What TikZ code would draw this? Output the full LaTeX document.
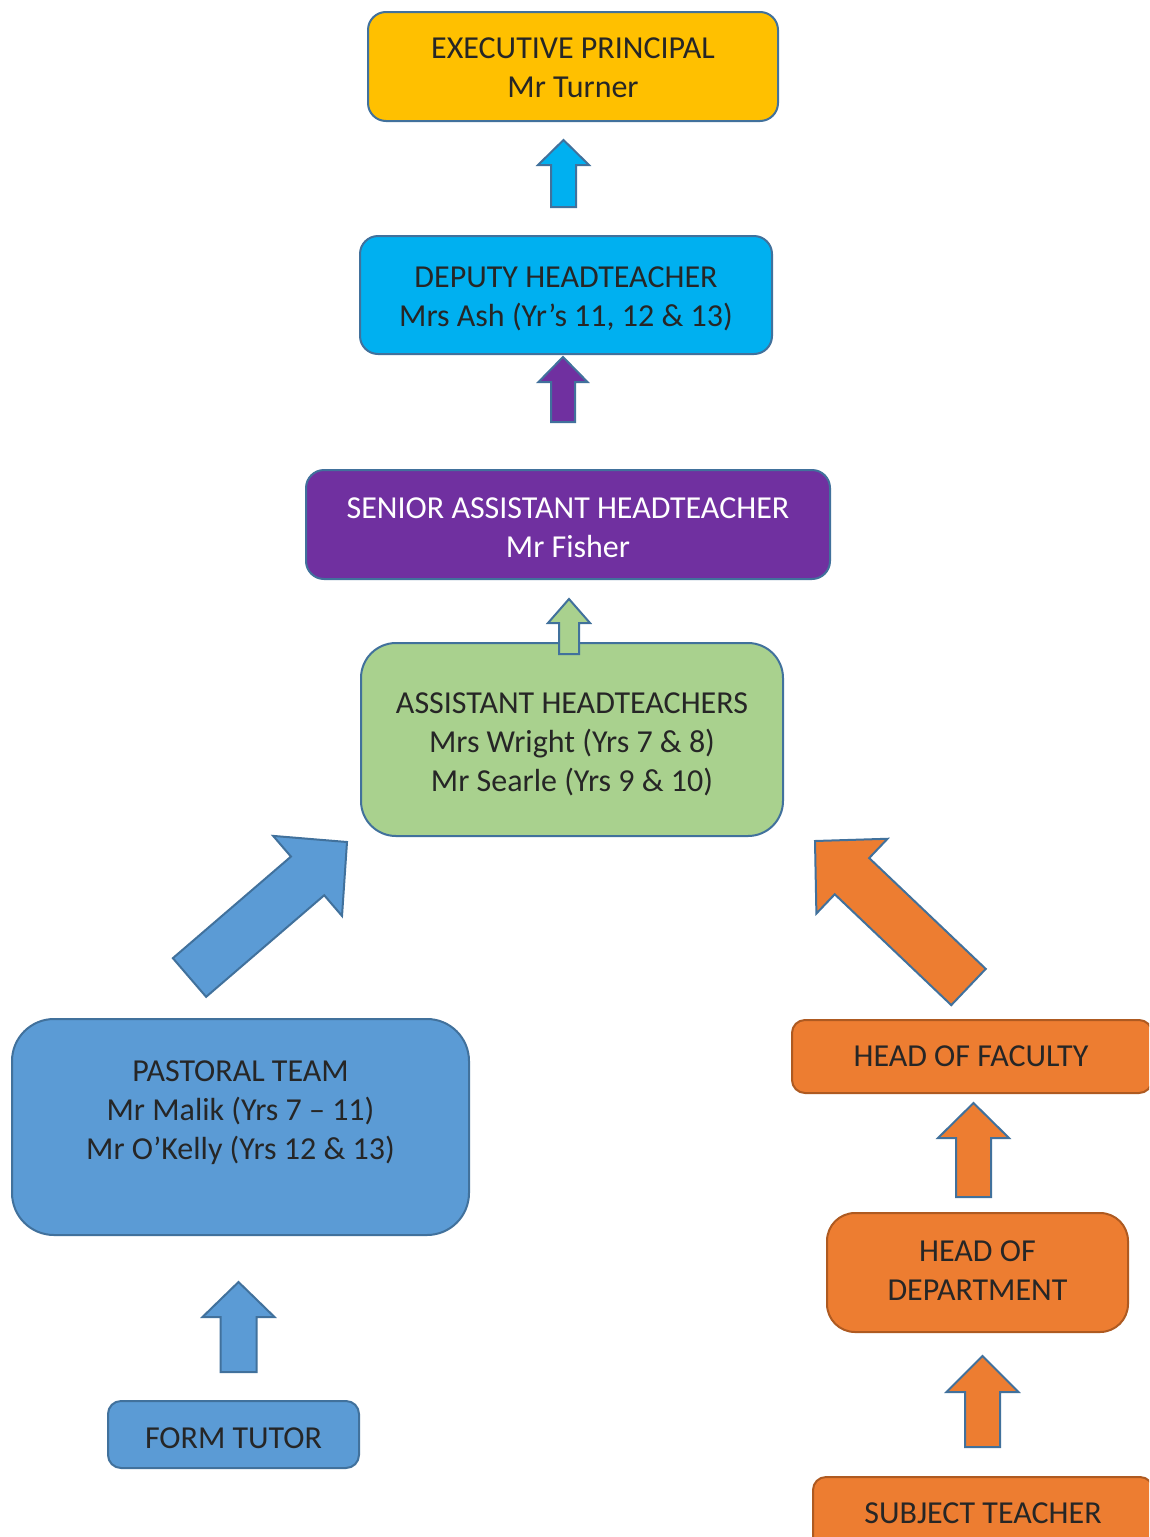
\documentclass[tikz,border=0pt]{standalone}
\usepackage{fontspec}
\setmainfont{Carlito}
\usetikzlibrary{calc}
\definecolor{execfill}{HTML}{FFC000}
\definecolor{depfill}{HTML}{00B0F0}
\definecolor{senfill}{HTML}{7030A0}
\definecolor{grnfill}{HTML}{A9D18E}
\definecolor{bluefill}{HTML}{5B9BD5}
\definecolor{orgfill}{HTML}{ED7D31}
\definecolor{outl}{HTML}{41719C}
\definecolor{orgline}{HTML}{AE5A21}
\definecolor{txtc}{HTML}{262626}
\tikzset{
  box/.style={draw=outl, line width=2pt, rounded corners=#1, inner sep=0pt},
  box/.default=18pt,
  txtlabel/.style={text=txtc, align=center, font=\fontsize{32pt}{39pt}\selectfont, inner sep=0pt},
  blockarrow/.style n args={3}{draw=outl, line width=2pt, line join=miter, to path={
    ($(\tikztostart)!#1!90:(\tikztotarget)$)
    -- ($(\tikztotarget)!#3!(\tikztostart)!#1!-90:(\tikztostart)$)
    -- ($(\tikztotarget)!#3!(\tikztostart)!#2!-90:(\tikztostart)$)
    -- (\tikztotarget)
    -- ($(\tikztotarget)!#3!(\tikztostart)!#2!90:(\tikztostart)$)
    -- ($(\tikztotarget)!#3!(\tikztostart)!#1!90:(\tikztostart)$)
    -- ($(\tikztostart)!#1!-90:(\tikztotarget)$)
    -- cycle}}
}
\begin{document}
\begin{tikzpicture}[x=1pt, y=-1pt]
\clip (0,0) rectangle (1149,1537);
\fill[white] (0,0) rectangle (1149,1537);

% boxes
\node[box, fill=execfill, minimum width=410pt, minimum height=109pt] (exec) at (573,66.5) {};
\node[txtlabel] (exectxt) at (573,67.5) {EXECUTIVE PRINCIPAL\\Mr Turner};
\node[box, fill=depfill, minimum width=412pt, minimum height=118pt] (dep) at (566,295) {};
\node[txtlabel] (deptxt) at (566,299) {DEPUTY HEADTEACHER\\Mrs Ash (Yr’s 11, 12 \& 13)};
\node[box, fill=senfill, minimum width=524pt, minimum height=109pt] (sen) at (568,524.5) {};
\node[txtlabel, text=white] (sentxt) at (568,527.5) {SENIOR ASSISTANT HEADTEACHER\\Mr Fisher};
\node[box=35pt, fill=grnfill, minimum width=422pt, minimum height=193pt] (ast) at (572,739.5) {};
\node[txtlabel] (asttxt) at (572,744.5)
  {ASSISTANT HEADTEACHERS\\Mrs Wright (Yrs 7 \& 8)\\Mr Searle (Yrs 9 \& 10)};
\node[box=42pt, fill=bluefill, minimum width=457pt, minimum height=216pt] (past) at (240.5,1127) {};
\node[txtlabel] (pasttxt) at (240.5,1113)
  {PASTORAL TEAM\\Mr Malik (Yrs 7 – 11)\\Mr O’Kelly (Yrs 12 \& 13)};
\node[box=13pt, fill=bluefill, minimum width=251pt, minimum height=67pt] (form) at (233.5,1434.5) {};
\node[txtlabel] (formtxt) at (233.5,1438.5) {FORM TUTOR};
\node[box=13pt, draw=orgline, fill=orgfill, minimum width=360pt, minimum height=73pt] (hof) at (972,1056.5) {};
\node[txtlabel] (hoftxt) at (971,1056.5) {HEAD OF FACULTY};
\node[box=28pt, draw=orgline, fill=orgfill, minimum width=301pt, minimum height=119pt] (hod) at (977.5,1272.5) {};
\node[txtlabel] (hodtxt) at (977.5,1270.5) {HEAD OF\\DEPARTMENT};
\node[box=13pt, draw=orgline, fill=orgfill, minimum width=340pt, minimum height=73pt] (subj) at (983,1513.5) {};
\node[txtlabel] (subjtxt) at (983,1513.5) {SUBJECT TEACHER};

% arrow end points
\coordinate (a1s) at (563.5,207);  \coordinate (a1t) at (563.5,140);
\coordinate (a2s) at (563,422);    \coordinate (a2t) at (563,357);
\coordinate (a3s) at (569,654);    \coordinate (a3t) at (569,599);
\coordinate (a4s) at (189.5,977.5); \coordinate (a4t) at (347,842);
\coordinate (a5s) at (968.5,987);  \coordinate (a5t) at (815,841);
\coordinate (a6s) at (973.5,1197); \coordinate (a6t) at (973.5,1103);
\coordinate (a7s) at (982.5,1447); \coordinate (a7t) at (982.5,1356);
\coordinate (a8s) at (238.5,1372); \coordinate (a8t) at (238.5,1282);

% block arrows
\draw[blockarrow={12.5pt}{25.5pt}{25pt}, fill=depfill] (a1s) to (a1t);
\draw[blockarrow={12pt}{24.5pt}{25pt}, fill=senfill] (a2s) to (a2t);
\draw[blockarrow={10pt}{21pt}{24pt}, fill=grnfill] (a3s) to (a3t);
\draw[blockarrow={25.5pt}{52.8pt}{52pt}, fill=bluefill] (a4s) to (a4t);
\draw[blockarrow={25pt}{51.6pt}{51pt}, fill=orgfill] (a5s) to (a5t);
\draw[blockarrow={17.5pt}{35.5pt}{35pt}, fill=orgfill] (a6s) to (a6t);
\draw[blockarrow={17.5pt}{36pt}{36pt}, fill=orgfill] (a7s) to (a7t);
\draw[blockarrow={18pt}{36pt}{35pt}, fill=bluefill] (a8s) to (a8t);
\end{tikzpicture}
\end{document}
